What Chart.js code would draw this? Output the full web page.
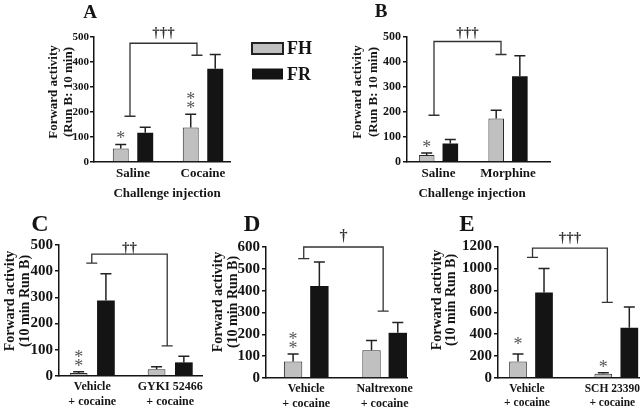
<!DOCTYPE html>
<html>
<head>
<meta charset="utf-8">
<script src="https://cdn.jsdelivr.net/npm/chart.js@4.4.1/dist/chart.umd.min.js"></script>
<style>
html, body { margin: 0; padding: 0; background: #fff; }
body { width: 640px; height: 410px; position: relative; overflow: hidden; }
canvas { position: absolute; }
</style>
</head>
<body>
<canvas id="panelA"></canvas>
<canvas id="panelB"></canvas>
<canvas id="panelC"></canvas>
<canvas id="panelD"></canvas>
<canvas id="panelE"></canvas>
<script>
// ---- data ----
// A: cocaine challenge
const groupsA = [['Saline'], ['Cocaine']];
const fhA = [54, 138];
const fhErrA = [70, 191];
const frA = [117, 373];
const frErrA = [139, 430];
const ticksA = [0, 100, 200, 300, 400, 500];
const bracketA = [475, 183, 427];   // top, left end, right end

// B: morphine challenge
const groupsB = [['Saline'], ['Morphine']];
const fhB = [28, 174];
const fhErrB = [36, 207];
const frB = [74, 343];
const frErrB = [90, 425];
const ticksB = [0, 100, 200, 300, 400, 500];
const bracketB = [482, 187, 430];

// C: GYKI 52466
const groupsC = [['Vehicle', '+ cocaine'], ['GYKI 52466', '+ cocaine']];
const fhC = [11, 26];
const fhErrC = [16, 35];
const frC = [288, 52];
const frErrC = [390, 75];
const ticksC = [0, 100, 200, 300, 400, 500];
const bracketC = [465, 431, 115];

// D: naltrexone
const groupsD = [['Vehicle', '+ cocaine'], ['Naltrexone', '+ cocaine']];
const fhD = [76, 127];
const fhErrD = [110, 172];
const frD = [421, 207];
const frErrD = [531, 254];
const ticksD = [0, 100, 200, 300, 400, 500, 600];
const bracketD = [600, 547, 306];

// E: SCH 23390
const groupsE = [['Vehicle', '+ cocaine'], ['SCH 23390', '+ cocaine']];
const fhE = [150, 38];
const fhErrE = [220, 48];
const frE = [780, 458];
const frErrE = [1000, 648];
const ticksE = [0, 200, 400, 600, 800, 1000, 1200];
const bracketE = [1185, 1100, 690];

const seriesNames = ['FH', 'FR'];

// ---- styling ----
const SERIF = "'Liberation Serif', 'Times New Roman', serif";
const INK = '#141414';
const GRAY = '#c0c0c0';

// annotation plugin: error bars, asterisks, brackets, panel text
const extras = {
    id: 'extras',
    afterDatasetsDraw(chart, args, o) {
        const ctx = chart.ctx;
        const xs = chart.scales.x, ys = chart.scales.y;
        const ox = o.origin[0], oy = o.origin[1];
        ctx.save();

        // error bars (upper only)
        o.errors.forEach((errs, d) => {
            const meta = chart.getDatasetMeta(d);
            meta.data.forEach((el, i) => {
                const yt = ys.getPixelForValue(errs[i]);
                ctx.strokeStyle = '#222';
                ctx.lineWidth = 1.5;
                ctx.beginPath();
                ctx.moveTo(el.x, el.y);
                ctx.lineTo(el.x, yt);
                ctx.moveTo(el.x - 5.5, yt);
                ctx.lineTo(el.x + 5.5, yt);
                ctx.stroke();
            });
        });

        // asterisks above FH error bars
        ctx.fillStyle = '#555';
        ctx.font = '18px ' + SERIF;
        ctx.textAlign = 'center';
        ctx.textBaseline = 'alphabetic';
        (o.stars || []).forEach(s => {
            const el = chart.getDatasetMeta(0).data[s.index];
            const yt = ys.getPixelForValue(o.errors[0][s.index]);
            for (let k = 0; k < s.n; k++) {
                const cy = yt - 8.5 - 9 * k - (s.lift || 0);
                ctx.fillText('*', el.x, cy + 0.46 * 18);
            }
        });

        // significance bracket
        const b = o.bracket;
        const xl = xs.getPixelForValue(0) + b.dx[0];
        const xr = xs.getPixelForValue(1) + b.dx[1];
        const yTop = ys.getPixelForValue(b.values[0]);
        const yL = ys.getPixelForValue(b.values[1]);
        const yR = ys.getPixelForValue(b.values[2]);
        ctx.strokeStyle = '#333';
        ctx.lineWidth = 1.3;
        ctx.beginPath();
        ctx.moveTo(xl - 5.5, yL); ctx.lineTo(xl + 5.5, yL);
        ctx.moveTo(xl, yL); ctx.lineTo(xl, yTop); ctx.lineTo(xr, yTop); ctx.lineTo(xr, yR);
        ctx.moveTo(xr - 5.5, yR); ctx.lineTo(xr + 5.5, yR);
        ctx.stroke();

        // daggers
        ctx.fillStyle = '#333';
        ctx.font = 'bold ' + b.daggerSize + 'px ' + SERIF;
        const dcy = yTop - b.daggerGap;
        ctx.fillText(b.daggers, (xl + xr) / 2, dcy + 0.28 * b.daggerSize);

        // panel letter
        ctx.fillStyle = INK;
        ctx.textBaseline = 'middle';
        ctx.font = 'bold ' + o.letter.size + 'px ' + SERIF;
        ctx.fillText(o.letter.text, o.letter.x - ox, o.letter.y - oy);

        // y axis title (two rotated lines)
        ctx.font = 'bold ' + o.yTitle.size + 'px ' + SERIF;
        o.yTitle.lines.forEach((line, k) => {
            ctx.save();
            ctx.translate(o.yTitle.x[k] - ox, o.yTitle.y - oy);
            ctx.rotate(-Math.PI / 2);
            ctx.fillText(line, 0, 0);
            ctx.restore();
        });

        // x axis title
        if (o.xTitle) {
            ctx.font = 'bold 13px ' + SERIF;
            ctx.fillText(o.xTitle.text, o.xTitle.x - ox, o.xTitle.y - oy);
        }

        // legend
        if (o.legend) {
            const lg = o.legend;
            seriesNames.forEach((name, k) => {
                const y = lg.y[k] - oy;
                ctx.fillStyle = k === 0 ? GRAY : INK;
                ctx.fillRect(lg.x - ox, y - 5.5, 31, 11);
                if (k === 0) {
                    ctx.strokeStyle = '#222';
                    ctx.lineWidth = 2;
                    ctx.strokeRect(lg.x - ox, y - 5.5, 31, 11);
                }
                ctx.fillStyle = INK;
                ctx.textAlign = 'left';
                ctx.font = 'bold 18px ' + SERIF;
                ctx.fillText(name, lg.x - ox + 35, y + 1);
            });
        }
        ctx.restore();
    }
};

function makePanel(id, p) {
    const canvas = document.getElementById(id);
    const [cx, cy, cw, ch] = p.canvas;
    canvas.width = cw;
    canvas.height = ch;
    canvas.style.left = cx + 'px';
    canvas.style.top = cy + 'px';
    canvas.style.width = cw + 'px';
    canvas.style.height = ch + 'px';

    const [l, t, r, b] = p.area;
    const tickFont = { family: SERIF, weight: 'bold', size: p.tickSize };

    return new Chart(canvas, {
        type: 'bar',
        data: {
            datasets: [
                {
                    label: seriesNames[0],
                    data: p.fh.map((v, i) => ({ x: i, y: v })),
                    backgroundColor: GRAY,
                    borderColor: '#2a2a2a',
                    borderWidth: 1,
                    categoryPercentage: p.catPct,
                    barPercentage: p.barPct
                },
                {
                    label: seriesNames[1],
                    data: p.fr.map((v, i) => ({ x: i, y: v })),
                    backgroundColor: INK,
                    borderWidth: 0,
                    categoryPercentage: p.catPct,
                    barPercentage: p.barPct
                }
            ]
        },
        options: {
            responsive: false,
            maintainAspectRatio: false,
            animation: false,
            layout: { padding: { left: 0, top: t - cy, right: cx + cw - r, bottom: 0 } },
            scales: {
                x: {
                    type: 'linear',
                    min: p.xRange[0],
                    max: p.xRange[1],
                    offset: false,
                    afterBuildTicks: s => { s.ticks = p.groups.map((g, i) => ({ value: i })); },
                    ticks: {
                        autoSkip: false,
                        maxRotation: 0,
                        padding: p.xPad,
                        labelOffset: p.xShift || 0,
                        color: INK,
                        font: { family: SERIF, weight: 'bold', size: p.xSize },
                        callback: (v, i) => p.groups[i]
                    },
                    grid: { display: false, drawTicks: false },
                    border: { color: INK, width: 1.5 },
                    afterFit: s => { s.height = cy + ch - b; s.paddingLeft = 0; s.paddingRight = 0; }
                },
                y: {
                    min: 0,
                    max: p.ticks[p.ticks.length - 1],
                    afterBuildTicks: s => { s.ticks = p.ticks.map(v => ({ value: v })); },
                    ticks: { color: INK, font: tickFont, padding: p.yPad, callback: v => String(v) },
                    grid: { drawOnChartArea: false, drawTicks: true, tickLength: 4, color: INK, lineWidth: 1.5 },
                    border: { color: INK, width: 1.5 },
                    afterFit: s => { s.width = l - cx; s.paddingTop = 0; s.paddingBottom = 0; }
                }
            },
            plugins: {
                legend: { display: false },
                tooltip: { enabled: false },
                extras: {
                    origin: [cx, cy],
                    errors: [p.fhErr, p.frErr],
                    stars: p.stars,
                    bracket: p.bracket,
                    letter: p.letter,
                    yTitle: p.yTitle,
                    xTitle: p.xTitle,
                    legend: p.legend
                }
            }
        },
        plugins: [extras]
    });
}

makePanel('panelA', {
    canvas: [0, 0, 320, 205], area: [94, 37, 230, 162],
    groups: groupsA, fh: fhA, fhErr: fhErrA, fr: frA, frErr: frErrA, ticks: ticksA,
    xRange: [-0.557, 1.386], catPct: 0.70, barPct: 0.65,
    tickSize: 11, yPad: 1, xSize: 13, xPad: 4,
    stars: [{ index: 0, n: 1 }, { index: 1, n: 2 }],
    bracket: { values: bracketA, dx: [-3, -6], daggers: '†††', daggerSize: 15, daggerGap: 10 },
    letter: { text: 'A', x: 90, y: 13, size: 19 },
    yTitle: { lines: ['Forward activity', '(Run B: 10 min)'], x: [54, 69], y: 92, size: 13 },
    xTitle: { text: 'Challenge injection', x: 167, y: 194 },
    legend: { x: 252, y: [48.5, 74] }
});

makePanel('panelB', {
    canvas: [320, 0, 320, 205], area: [407, 37, 550, 162],
    groups: groupsB, fh: fhB, fhErr: fhErrB, fr: frB, frErr: frErrB, ticks: ticksB,
    xRange: [-0.453, 1.604], catPct: 0.68, barPct: 0.66,
    tickSize: 12, yPad: 2, xSize: 13, xPad: 4,
    stars: [{ index: 0, n: 1 }],
    bracket: { values: bracketB, dx: [-4.5, -7], daggers: '†††', daggerSize: 15, daggerGap: 9 },
    letter: { text: 'B', x: 381, y: 12, size: 19 },
    yTitle: { lines: ['Forward activity', '(Run B: 10 min)'], x: [358, 374], y: 92, size: 13 },
    xTitle: { text: 'Challenge injection', x: 472, y: 194 }
});

makePanel('panelC', {
    canvas: [0, 205, 210, 205], area: [59, 245, 202, 376],
    groups: groupsC, fh: fhC, fhErr: fhErrC, fr: frC, frErr: frErrC, ticks: ticksC,
    xRange: [-0.427, 1.408], catPct: 0.70, barPct: 0.65,
    tickSize: 15, yPad: 2, xSize: 12, xPad: 4,
    stars: [{ index: 0, n: 2 }],
    bracket: { values: bracketC, dx: [-0.5, -3], daggers: '††', daggerSize: 15, daggerGap: 6 },
    letter: { text: 'C', x: 40, y: 225, size: 24 },
    yTitle: { lines: ['Forward activity', '(10 min Run B)'], x: [10, 25], y: 301, size: 14 }
});

makePanel('panelD', {
    canvas: [210, 205, 210, 205], area: [266, 247, 407, 378],
    groups: groupsD, fh: fhD, fhErr: fhErrD, fr: frD, frErr: frErrD, ticks: ticksD,
    xRange: [-0.513, 1.285], catPct: 0.67, barPct: 0.70,
    tickSize: 15, yPad: 2, xSize: 12, xPad: 4,
    stars: [{ index: 0, n: 2 }],
    bracket: { values: bracketD, dx: [-2.5, -1.5], daggers: '†', daggerSize: 16, daggerGap: 10 },
    letter: { text: 'D', x: 252, y: 225, size: 23 },
    yTitle: { lines: ['Forward activity', '(10 min Run B)'], x: [218, 233], y: 302, size: 14 }
});

makePanel('panelE', {
    canvas: [420, 205, 220, 205], area: [498, 246.5, 639, 378],
    groups: groupsE, fh: fhE, fhErr: fhErrE, fr: frE, frErr: frErrE, ticks: ticksE,
    xRange: [-0.387, 1.266], catPct: 0.61, barPct: 0.68,
    tickSize: 15, yPad: 2, xSize: 11.5, xPad: 4, xShift: -4,
    stars: [{ index: 0, n: 1, lift: 4 }, { index: 1, n: 1 }],
    bracket: { values: bracketE, dx: [1.5, -9], daggers: '†††', daggerSize: 15, daggerGap: 10 },
    letter: { text: 'E', x: 467, y: 225, size: 23 },
    yTitle: { lines: ['Forward activity', '(10 min Run B)'], x: [437, 451], y: 300, size: 14 }
});
</script>
</body>
</html>
